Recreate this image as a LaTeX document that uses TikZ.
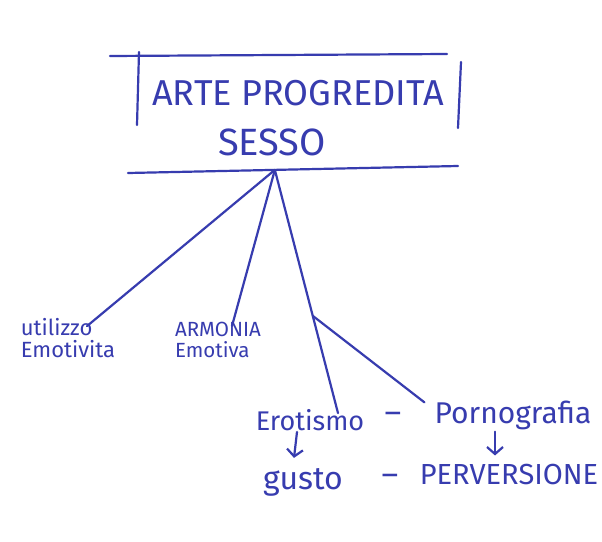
\documentclass[tikz,border=0pt]{standalone}
\usepackage{fontspec}
\setmainfont{Fira Sans}
\usetikzlibrary{arrows.meta,positioning}
\definecolor{ink}{RGB}{55,60,175}

\begin{document}
\begin{tikzpicture}[x=1pt,y=-1pt,
    ink/.style={draw=ink, line width=2.2pt, line cap=round},
    word/.style={text=ink, inner sep=0pt, align=left},
    down/.style={ink, -{Straight Barb[length=7pt,width=16pt]}}
    ]
    \useasboundingbox[fill=white] (0,0) rectangle (602,541);

    % header
    \node[word, font=\fontsize{36}{36}\selectfont] (arte) at (298,93) {ARTE PROGREDITA};
    \node[word, font=\fontsize{38}{38}\selectfont] (sesso) at (272,142) {SESSO};
    \draw[ink] (110,56) -- (447,54);
    \draw[ink] (139,52) -- (137,125);
    \draw[ink] (461,62) -- (458,128);
    \draw[ink] (128,173) -- coordinate[pos=0.445] (apex) (458,166);

    % branches
    \node[word, font=\fontsize{22}{22}\selectfont] (util) at (68,338) {utilizzo\\Emotivita};
    \node[word, font=\fontsize{20.5}{21}\selectfont] (arm) at (218,340) {ARMONIA\\Emotiva};
    \node[word, font=\fontsize{27}{27}\selectfont] (ero) at (310,420) {Erotismo};
    \node[word, font=\fontsize{32}{32}\selectfont] (dash_a) at (393,418) {--};
    \node[word, font=\fontsize{30}{30}\selectfont] (porno) at (513,415) {Pornografia};
    \node[word, font=\fontsize{32}{32}\selectfont] (gusto) at (303,482) {gusto};
    \node[word, font=\fontsize{32}{32}\selectfont] (dash_b) at (390,480) {--};
    \node[word, font=\fontsize{29}{29}\selectfont] (perv) at (509,475) {PERVERSIONE};

    \draw[ink] (apex) -- ([xshift=19pt,yshift=-8pt]util.north);
    \draw[ink] (apex) -- ([xshift=14pt,yshift=-4pt]arm.north);
    \draw[ink] (apex) -- coordinate[pos=0.6] (fork) ([xshift=28pt,yshift=-4pt]ero.north);
    \draw[ink] (fork) -- ([xshift=-10pt,yshift=-2pt]porno.north west);

    \draw[down] ([xshift=-13pt,yshift=-1pt]ero.south) -- ([xshift=-9pt,yshift=10pt]gusto.north);
    \draw[down] ([xshift=-18pt,yshift=-2pt]porno.south) -- ([xshift=-14pt,yshift=9pt]perv.north);
\end{tikzpicture}
\end{document}
